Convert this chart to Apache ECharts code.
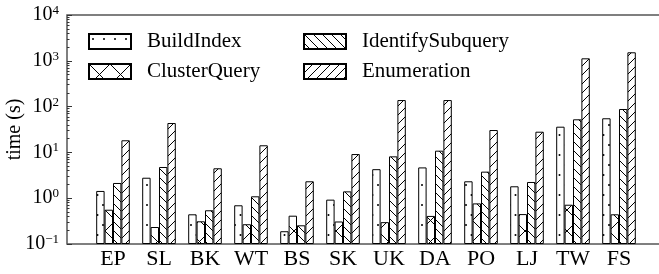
<!DOCTYPE html>
<html>
<head>
<meta charset="utf-8">
<script src="https://cdn.jsdelivr.net/npm/echarts@6/dist/echarts.min.js"></script>
<style>
html, body { margin: 0; padding: 0; background: #fff; }
#chart { width: 659px; height: 274px; }
</style>
</head>
<body>
<div id="chart"></div>
<script>
var categories = ['EP', 'SL', 'BK', 'WT', 'BS', 'SK', 'UK', 'DA', 'PO', 'LJ', 'TW', 'FS'];
var buildIndex = [1.44, 2.8, 0.445, 0.70, 0.19, 0.93, 4.3, 4.7, 2.34, 1.82, 36.4, 55.6];
var clusterQuery = [0.56, 0.235, 0.313, 0.27, 0.415, 0.31, 0.30, 0.41, 0.77, 0.45, 0.72, 0.445];
var identifySubquery = [2.15, 4.8, 0.545, 1.1, 0.256, 1.41, 8.2, 10.9, 3.8, 2.26, 52.8, 88.7];
var enumeration = [18.4, 43.8, 4.5, 14.3, 2.34, 9.2, 139, 139, 30.8, 28.3, 1133, 1534];

var FONT = '"Liberation Serif", "Times New Roman", serif';

// hatch tiles drawn on small canvases
function makeTile(w, h, draw) {
	var c = document.createElement('canvas');
	c.width = w;
	c.height = h;
	var ctx = c.getContext('2d');
	ctx.fillStyle = '#fff';
	ctx.fillRect(0, 0, w, h);
	ctx.strokeStyle = '#000';
	ctx.fillStyle = '#000';
	ctx.lineWidth = 1;
	draw(ctx, w, h);
	return { image: c, repeat: 'repeat' };
}

var dotTile = makeTile(11, 20, function(ctx) {
	ctx.beginPath(); ctx.arc(4, 5, 1, 0, Math.PI * 2); ctx.fill();
	ctx.beginPath(); ctx.arc(9.5, 15, 1, 0, Math.PI * 2); ctx.fill();
});
var crossTile = makeTile(21, 21, function(ctx, w, h) {
	ctx.beginPath();
	ctx.moveTo(-1, -1); ctx.lineTo(w + 1, h + 1);
	ctx.moveTo(w + 1, -1); ctx.lineTo(-1, h + 1);
	ctx.stroke();
});
var backTile = makeTile(9, 9, function(ctx, w, h) {
	ctx.beginPath();
	ctx.moveTo(-1, -1); ctx.lineTo(w + 1, h + 1);
	ctx.moveTo(w - 1, -1); ctx.lineTo(w + 1, 1);
	ctx.moveTo(-1, h - 1); ctx.lineTo(1, h + 1);
	ctx.stroke();
});
var slashTile = makeTile(9, 9, function(ctx, w, h) {
	ctx.beginPath();
	ctx.moveTo(-1, h + 1); ctx.lineTo(w + 1, -1);
	ctx.moveTo(-1, 1); ctx.lineTo(1, -1);
	ctx.moveTo(w - 1, h + 1); ctx.lineTo(w + 1, h - 1);
	ctx.stroke();
});

function toPoints(values) {
	var pts = [];
	for (var i = 0; i < values.length; i++) {
		pts.push([i, values[i]]);
	}
	return pts;
}

function barSeries(name, values, pattern) {
	return {
		name: name,
		type: 'bar',
		data: toPoints(values),
		barWidth: 8.4,
		barGap: '0%',
		itemStyle: { color: pattern, borderColor: '#000', borderWidth: 1 },
		emphasis: { disabled: true },
		animation: false
	};
}

var legendCommon = {
	orient: 'vertical',
	top: 26,
	itemWidth: 42,
	itemHeight: 15,
	itemGap: 9,
	icon: 'rect',
	textStyle: { fontFamily: FONT, fontSize: 21, color: '#000', padding: [0, 0, 0, 11] }
};

var chart = echarts.init(document.getElementById('chart'));
chart.setOption({
	animation: false,
	grid: {
		left: 67,
		right: -6,
		top: 15,
		bottom: 30,
		outerBoundsMode: 'none',
		containLabel: false,
		show: true,
		borderColor: '#555',
		borderWidth: 1.5
	},
	legend: [
		Object.assign({ left: 83, data: ['BuildIndex', 'ClusterQuery'] }, legendCommon),
		Object.assign({ left: 298, data: ['IdentifySubquery', 'Enumeration'] }, legendCommon)
	],
	xAxis: {
		type: 'value',
		min: -1,
		max: 12,
		interval: 1,
		splitLine: { show: false },
		axisTick: { show: false },
		axisLine: { show: false, onZero: false },
		axisLabel: {
			margin: 4,
			fontFamily: FONT,
			fontSize: 22,
			color: '#000',
			showMinLabel: false,
			showMaxLabel: false,
			formatter: function(v) {
				return categories[v] || '';
			}
		}
	},
	yAxis: {
		type: 'log',
		logBase: 10,
		min: 0.1,
		max: 10000,
		startValue: 0.1,
		name: 'time (s)',
		nameLocation: 'middle',
		nameGap: 42,
		nameMoveOverlap: false,
		nameTextStyle: { fontFamily: FONT, fontSize: 20, color: '#000' },
		splitLine: { show: false },
		axisLine: { show: false, onZero: false },
		axisTick: { show: true, inside: true, length: 5, lineStyle: { color: '#333' } },
		minorTick: { show: true, splitNumber: 9, length: 2.5, lineStyle: { color: '#333' } },
		axisLabel: {
			margin: 8,
			color: '#000',
			formatter: function(v) {
				var e = Math.round(Math.log(v) / Math.LN10);
				return '{b|10}{s|' + (e < 0 ? '\u2212' + (-e) : e) + '}';
			},
			rich: {
				b: { fontFamily: FONT, fontSize: 20, lineHeight: 22, color: '#000' },
				s: { fontFamily: FONT, fontSize: 13, lineHeight: 13, verticalAlign: 'top', color: '#000' }
			}
		}
	},
	series: [
		barSeries('BuildIndex', buildIndex, dotTile),
		barSeries('ClusterQuery', clusterQuery, crossTile),
		barSeries('IdentifySubquery', identifySubquery, backTile),
		barSeries('Enumeration', enumeration, slashTile)
	]
});
</script>
</body>
</html>
